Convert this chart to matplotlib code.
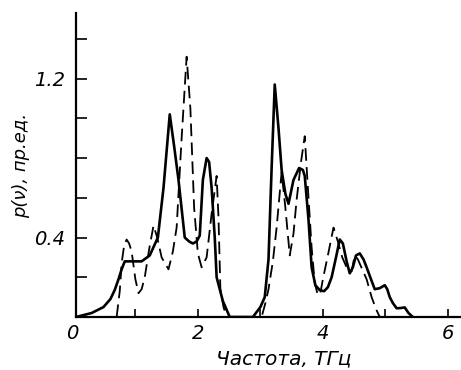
import matplotlib
matplotlib.use("Agg")
import matplotlib.pyplot as plt

# Solid curve (calculated spectrum), frequency in THz
solid_x = [0.05, 0.30, 0.49, 0.60, 0.67, 0.73, 0.78, 0.83, 0.95, 1.10, 1.23, 1.36,
           1.45, 1.55, 1.62, 1.69, 1.79, 1.86, 1.92, 1.98, 2.03, 2.08, 2.14, 2.18,
           2.22, 2.27, 2.30, 2.40, 2.51,
           2.88, 3.00, 3.07, 3.13, 3.18, 3.23, 3.29, 3.34, 3.40, 3.45, 3.53, 3.62,
           3.68, 3.71, 3.77, 3.82, 3.88, 3.95, 4.02, 4.08, 4.14, 4.21, 4.27, 4.32,
           4.38, 4.43, 4.48, 4.53, 4.59, 4.65, 4.70, 4.77, 4.83, 4.91, 4.99, 5.03,
           5.07, 5.12, 5.18, 5.24, 5.31, 5.37, 5.44]
solid_y = [0.0, 0.02, 0.05, 0.09, 0.136, 0.19, 0.24, 0.28, 0.28, 0.28, 0.31, 0.40,
           0.65, 1.02, 0.86, 0.69, 0.40, 0.38, 0.37, 0.38, 0.41, 0.69, 0.80, 0.78,
           0.65, 0.40, 0.20, 0.08, 0.0,
           0.0, 0.05, 0.10, 0.29, 0.75, 1.17, 0.95, 0.74, 0.62, 0.57, 0.69, 0.75,
           0.74, 0.71, 0.49, 0.25, 0.16, 0.135, 0.13, 0.15, 0.20, 0.30, 0.39, 0.37,
           0.28, 0.22, 0.25, 0.31, 0.32, 0.29, 0.25, 0.19, 0.14, 0.145, 0.16, 0.14,
           0.10, 0.07, 0.044, 0.045, 0.048, 0.02, 0.0]

# Dashed curve (measured spectrum)
dash_x = [0.70, 0.75, 0.78, 0.82, 0.86, 0.90, 0.94, 1.00, 1.05, 1.10, 1.15, 1.22,
          1.29, 1.35, 1.42, 1.53, 1.60, 1.66, 1.74, 1.82, 1.88, 1.94, 2.00, 2.06,
          2.14, 2.22, 2.30, 2.33, 2.36, 2.41, 2.46,
          3.02, 3.08, 3.13, 3.20, 3.26, 3.34, 3.40, 3.47, 3.53, 3.58, 3.65, 3.71,
          3.76, 3.82, 3.87, 3.92, 3.96, 4.00, 4.08, 4.17, 4.24, 4.31, 4.38, 4.46,
          4.51, 4.56, 4.63, 4.70, 4.78, 4.85, 4.91]
dash_y = [0.0, 0.13, 0.27, 0.36, 0.39, 0.37, 0.33, 0.19, 0.12, 0.14, 0.20, 0.34,
          0.46, 0.40, 0.30, 0.24, 0.33, 0.45, 0.90, 1.31, 1.05, 0.55, 0.32, 0.25,
          0.30, 0.52, 0.71, 0.50, 0.14, 0.05, 0.0,
          0.0, 0.07, 0.14, 0.28, 0.45, 0.73, 0.55, 0.31, 0.42, 0.59, 0.78, 0.91,
          0.65, 0.35, 0.17, 0.11, 0.12, 0.19, 0.31, 0.45, 0.38, 0.30, 0.25, 0.23,
          0.31, 0.29, 0.24, 0.19, 0.10, 0.04, 0.0]

x_ticks = [1, 2, 3, 4, 5, 6]
x_labels = ["", "2", "", "4", "", "6"]
y_ticks = [0.2, 0.4, 0.6, 0.8, 1.0, 1.2, 1.4]
y_labels = ["", "0.4", "", "", "", "1.2", ""]

font = dict(family=["DejaVu Sans"], style="italic")

fig = plt.figure(figsize=(4.61, 3.70), dpi=100)
ax = fig.add_axes([76 / 461, 53 / 370, 385 / 461, 304 / 370])

ax.plot(solid_x, solid_y, color="black", lw=1.9, solid_joinstyle="round")
ax.plot(dash_x, dash_y, color="black", lw=1.3, dashes=(7, 3.5))

ax.set_xlim(0.05, 6.21)
ax.set_ylim(0, 1.53)

for side in ["top", "right"]:
    ax.spines[side].set_visible(False)
for side in ["left", "bottom"]:
    ax.spines[side].set_linewidth(1.6)

ax.set_xticks(x_ticks)
ax.set_xticklabels(x_labels, fontsize=14, **font)
ax.set_yticks(y_ticks)
ax.set_yticklabels(y_labels, fontsize=14, **font)
ax.tick_params(axis="x", direction="in", length=6, width=1.2, pad=5)
ax.tick_params(axis="y", direction="in", length=8, width=1.2, pad=8)

# the zero label sits under the origin, level with the other tick labels
ax.text(-0.01, -0.023, "0", transform=ax.get_xaxis_transform(), fontsize=14,
        ha="center", va="top", **font)

ax.set_xlabel("Частота, ТГц", fontsize=14.5, **font)
ax.xaxis.set_label_coords(0.54, -0.108)
ax.set_ylabel("p(ν), пр.ед.", fontsize=13, **font)
ax.yaxis.set_label_coords(-0.12, 0.50)

fig.savefig("out.png", dpi=100)
